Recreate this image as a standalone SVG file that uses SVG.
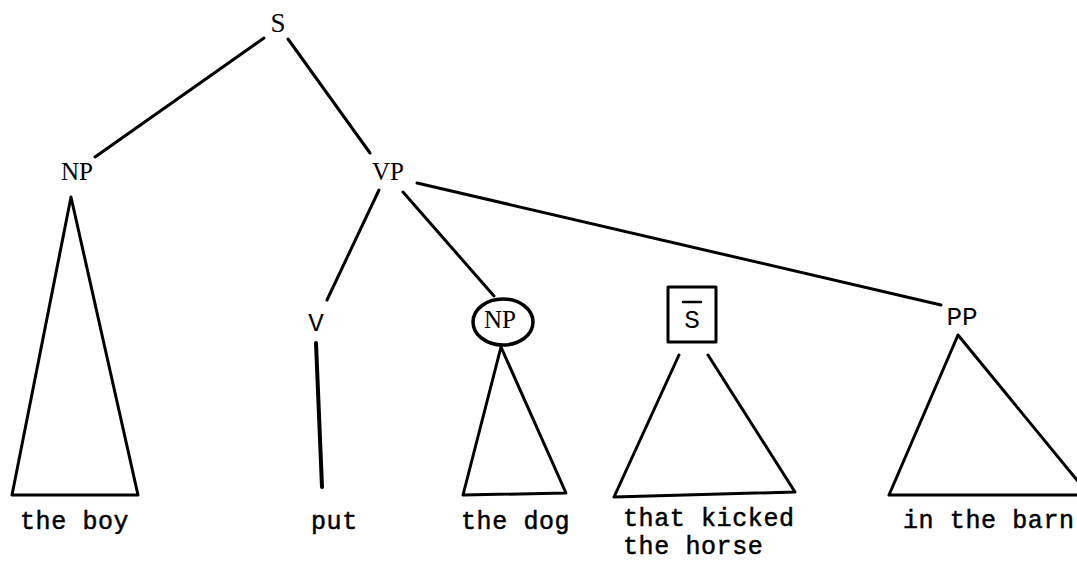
<svg xmlns="http://www.w3.org/2000/svg" width="1077" height="562" viewBox="0 0 1077 562">
<style>
.ln{stroke:#000;stroke-width:3;fill:none;stroke-linecap:round;stroke-linejoin:round}
.lbl{font-family:"Liberation Serif",serif;font-size:25px;fill:#000;text-anchor:middle}
.mlbl{font-family:"Liberation Mono",monospace;font-size:26px;fill:#000;text-anchor:middle}
.leaf{font-family:"Liberation Mono",monospace;font-size:25px;letter-spacing:0.6px;fill:#000;stroke:#000;stroke-width:0.5}
</style>
<rect width="1077" height="562" fill="#fff"/>
<g id="connectors">
<line class="ln" x1="264" y1="38" x2="95" y2="157"/>
<line class="ln" x1="288" y1="39" x2="370" y2="153"/>
<line class="ln" x1="379" y1="190" x2="327" y2="300"/>
<line class="ln" x1="403" y1="192" x2="494" y2="296"/>
<line class="ln" x1="417" y1="183" x2="941" y2="305"/>
<line class="ln" x1="316" y1="343" x2="322" y2="487" style="stroke-width:4"/>
</g>
<g id="node-S"><text class="lbl" x="278" y="32" style="font-size:27px">S</text></g>
<g id="node-NP1"><text class="lbl" x="77" y="180">NP</text>
<path class="ln" d="M71,197 L12,495 L138,495 Z"/></g>
<g id="node-VP"><text class="lbl" x="388" y="180">VP</text></g>
<g id="node-V"><text class="mlbl" x="316" y="331">V</text></g>
<g id="node-NP2"><ellipse class="ln" cx="503" cy="322" rx="30" ry="23" style="stroke-width:3.5"/>
<text class="lbl" x="500" y="328">NP</text>
<path class="ln" d="M501,347 L463,495 L566,493 L501,347"/></g>
<g id="node-Sbar"><rect class="ln" x="668" y="287" width="48" height="55"/>
<text class="mlbl" x="692" y="328">S</text>
<line class="ln" x1="683" y1="302" x2="701" y2="302" style="stroke-width:2.5"/>
<path class="ln" d="M679,355 L614,497 L795,492 L708,355"/></g>
<g id="node-PP"><text class="mlbl" x="962" y="325">PP</text>
<path class="ln" d="M958,335 L889,495 L1090,495 M958,335 L1090,496"/></g>
<g id="leaves">
<text class="leaf" x="20" y="529">the boy</text>
<text class="leaf" x="311" y="529">put</text>
<text class="leaf" x="461" y="529">the dog</text>
<text class="leaf" x="623" y="526">that kicked</text>
<text class="leaf" x="623" y="554">the horse</text>
<text class="leaf" x="903" y="528">in the barn</text>
</g>
</svg>
